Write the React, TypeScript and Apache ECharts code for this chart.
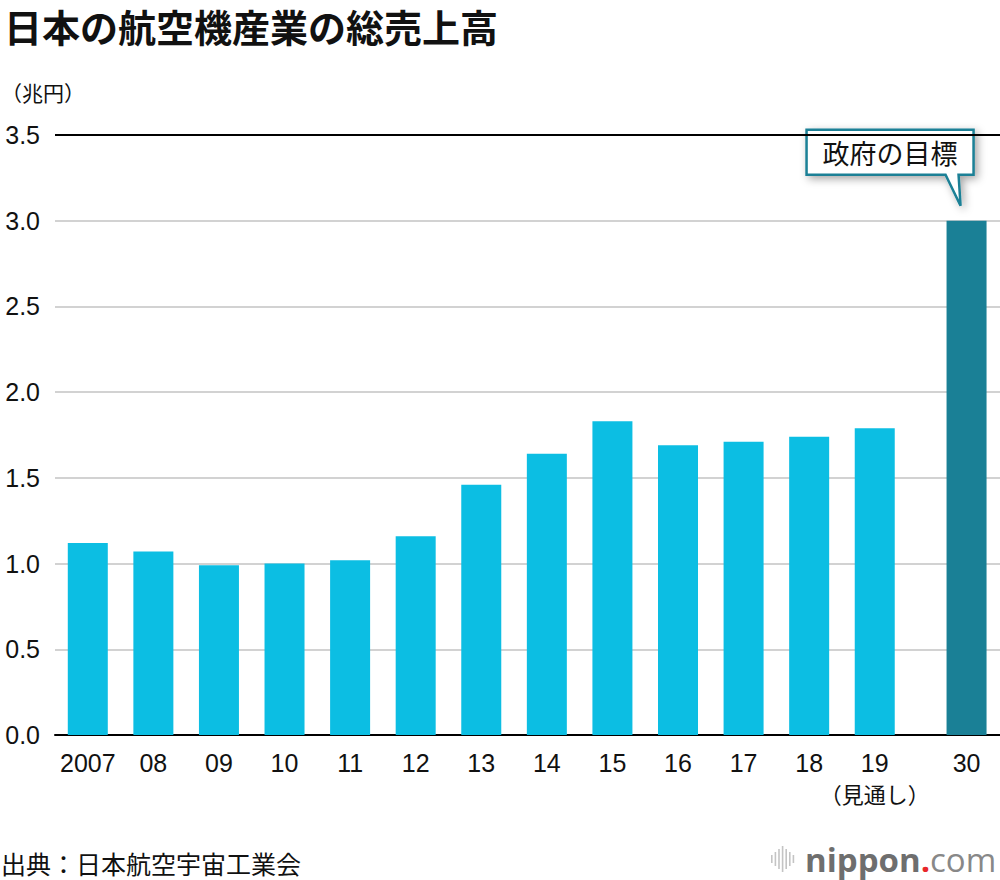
import React, { useEffect, useRef } from 'react';
import * as echarts from 'echarts';

const categories = ['2007', '08', '09', '10', '11', '12', '13', '14', '15', '16', '17', '18', '19', '30'];
const values = [1.12, 1.07, 0.99, 1.0, 1.02, 1.16, 1.46, 1.64, 1.83, 1.69, 1.71, 1.74, 1.79, 3.0];
const subLabels: Record<string, string> = { '19': '（見通し）' };
const yTicks = [0, 0.5, 1.0, 1.5, 2.0, 2.5, 3.0, 3.5];
const TITLE = '日本の航空機産業の総売上高';
const UNIT = '（兆円）';
const SOURCE = '出典：日本航空宇宙工業会';
const CALLOUT = '政府の目標';

const TARGET_INDEX = categories.length - 1;
const TARGET_GAP = 0.4;
const BLUE = '#0cbee3';
const TEAL = '#1a8096';
const FONT = "'Liberation Sans', 'Noto Sans CJK JP', sans-serif";
const CJK = "'Noto Sans CJK JP', sans-serif";

const positions = categories.map((_, i) => i + (i === TARGET_INDEX ? TARGET_GAP : 0));

export default function App() {
  const ref = useRef<HTMLDivElement>(null);
  useEffect(() => {
    if (!ref.current) return;
    const chart = echarts.init(ref.current, undefined, { renderer: 'svg' });
    const labelFor = (v: number) => {
      const i = positions.findIndex((p) => Math.abs(p - v) < 1e-6);
      if (i < 0) return '';
      const c = categories[i];
      return subLabels[c] ? `{a|${c}}\n{b|${subLabels[c]}}` : `{a|${c}}`;
    };
    chart.setOption({
      animation: false,
      textStyle: { fontFamily: FONT },
      grid: { left: 55, right: 0, top: 135, bottom: 145, containLabel: false, outerBoundsMode: 'none' },
      xAxis: {
        type: 'value',
        min: -0.5,
        max: 13.91,
        splitLine: { show: false },
        axisTick: { show: false },
        axisLine: { show: true, lineStyle: { color: '#000', width: 2 } },
        axisLabel: {
          customValues: positions,
          formatter: labelFor,
          margin: 13,
          color: '#111',
          rich: {
            a: { fontSize: 25, lineHeight: 30, fontFamily: FONT, color: '#111' },
            b: { fontSize: 22, lineHeight: 30, fontFamily: CJK, color: '#111' },
          },
        },
      },
      yAxis: {
        type: 'value',
        min: yTicks[0],
        max: yTicks[yTicks.length - 1],
        interval: 0.5,
        axisLine: { show: false },
        axisTick: { show: false },
        splitLine: { lineStyle: { color: '#d2d2d2', width: 2 } },
        axisLabel: { formatter: (v: number) => v.toFixed(1), fontSize: 25, color: '#111', margin: 15 },
      },
      series: [
        {
          type: 'bar',
          barWidth: 40,
          data: values.map((v, i) => ({
            value: [positions[i], v],
            itemStyle: { color: i === TARGET_INDEX ? TEAL : BLUE },
          })),
          markLine: {
            silent: true,
            symbol: ['none', 'none'],
            label: { show: false },
            lineStyle: { color: '#000', width: 2, type: 'solid' },
            data: [{ yAxis: yTicks[yTicks.length - 1] }],
          },
        },
      ],
    });

    const [bx, by] = chart.convertToPixel({ xAxisIndex: 0, yAxisIndex: 0 }, [positions[TARGET_INDEX], values[TARGET_INDEX]]);
    const tx = bx - 6;
    const ty = by - 15;
    const iconHeights = [8, 14, 20, 26, 20, 14, 8];
    chart.setOption({
      graphic: [
        {
          type: 'text',
          x: 4,
          y: 6,
          style: { text: TITLE, fontSize: 38, fontWeight: 'bold', fill: '#111', fontFamily: CJK, verticalAlign: 'top' },
        },
        {
          type: 'text',
          x: 1,
          y: 92,
          style: { text: UNIT, fontSize: 21, fill: '#111', fontFamily: CJK, verticalAlign: 'middle' },
        },
        {
          type: 'text',
          x: 1,
          y: 863,
          style: { text: SOURCE, fontSize: 25, fill: '#111', fontFamily: CJK, verticalAlign: 'middle' },
        },
        {
          type: 'group',
          x: tx,
          y: ty,
          children: [
            {
              type: 'polygon',
              shape: {
                points: [
                  [-154, -76],
                  [13, -76],
                  [13, -31],
                  [-2, -31],
                  [0, 0],
                  [-15, -31],
                  [-154, -31],
                ],
              },
              style: {
                fill: '#fff',
                stroke: TEAL,
                lineWidth: 2.5,
                shadowBlur: 8,
                shadowColor: 'rgba(0,0,0,0.35)',
                shadowOffsetX: 3,
                shadowOffsetY: 3,
              },
            },
            {
              type: 'text',
              x: -70.5,
              y: -53.5,
              style: {
                text: CALLOUT,
                fontSize: 27,
                fontFamily: CJK,
                fill: '#111',
                align: 'center',
                verticalAlign: 'middle',
              },
            },
          ],
        },
        {
          type: 'group',
          x: 771,
          y: 859,
          children: [
            ...iconHeights.map((h, i) => ({
              type: 'rect',
              shape: { x: i * 3.6, y: -h / 2, width: 1.6, height: h },
              style: { fill: '#c4c4c4' },
            })),
            {
              type: 'text',
              x: 34,
              y: 0,
              style: {
                text: '{n|nippon}{d|.}{c|com}',
                verticalAlign: 'middle',
                rich: {
                  n: { fontSize: 33, fontWeight: 'bold', fill: '#6e6e6e', fontFamily: "'Open Sans', sans-serif" },
                  d: { fontSize: 33, fontWeight: 'bold', fill: '#e8272a', fontFamily: "'Open Sans', sans-serif" },
                  c: { fontSize: 33, fontWeight: 'normal', fill: '#888', fontFamily: "'Open Sans', sans-serif" },
                },
              },
            },
          ],
        },
      ],
    });
    return () => chart.dispose();
  }, []);
  return <div ref={ref} style={{ position: 'absolute', left: 0, top: 0, width: 1000, height: 880 }} />;
}
